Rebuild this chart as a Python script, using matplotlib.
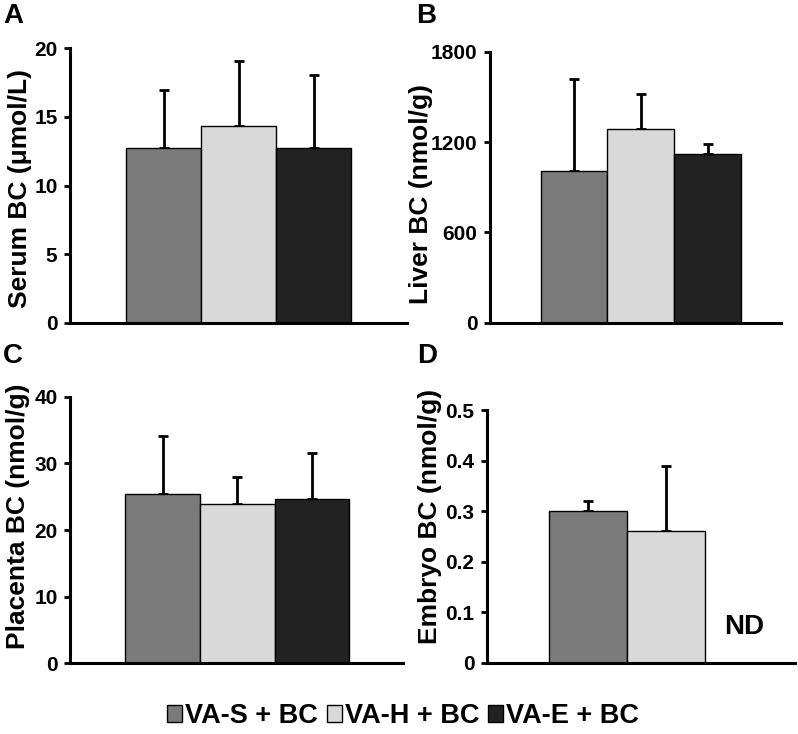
"""Four-panel BC bar chart (serum, liver, placenta, embryo) with SD error bars."""
import numpy as np
import matplotlib

matplotlib.use("Agg")
import matplotlib.pyplot as plt
from matplotlib.patches import Patch

plt.rcParams["font.family"] = ["Liberation Sans", "DejaVu Sans"]
plt.rcParams["font.weight"] = "bold"

GROUPS = ["VA-S + BC", "VA-H + BC", "VA-E + BC"]
COLORS = ["#7a7a7a", "#d9d9d9", "#222222"]

serum_mean = [12.75, 14.35, 12.75]
serum_err = [4.2, 4.7, 5.3]
liver_mean = [1005, 1285, 1118]
liver_err = [615, 235, 67]
placenta_mean = [25.4, 23.9, 24.6]
placenta_err = [8.7, 4.1, 6.9]
embryo_mean = [0.30, 0.26]
embryo_err = [0.02, 0.13]

W, H = 798, 734


def px_axes(fig, x0, x1, ytop, ybot):
    return fig.add_axes([x0 / W, 1 - ybot / H, (x1 - x0) / W, (ybot - ytop) / H])


def panel(ax, means, errs, ylim, yticks, ylabel, xlim, label_xy):
    x = np.arange(len(means))
    ax.bar(x, means, width=1.0, color=COLORS[:len(means)], edgecolor="black",
           linewidth=1.0, zorder=2)
    ax.errorbar(x, means, yerr=[np.zeros(len(errs)), errs], fmt="none",
                ecolor="black", elinewidth=2.0, capsize=3.5, capthick=2.0, zorder=1)
    ax.set_xlim(*xlim)
    ax.set_ylim(*ylim)
    ax.set_yticks(yticks)
    ax.set_xticks([])
    for s in ("top", "right"):
        ax.spines[s].set_visible(False)
    for s in ("left", "bottom"):
        ax.spines[s].set_linewidth(2.2)
    ax.tick_params(axis="y", length=4, width=2, labelsize=15, pad=5)
    ax.set_ylabel(ylabel, fontsize=19, fontweight="bold")
    ax.yaxis.set_label_coords(*label_xy)


fig = plt.figure(figsize=(W / 100, H / 100), dpi=100)

axA = px_axes(fig, 70, 407, 48, 323)
panel(axA, serum_mean, serum_err, (0, 20), [0, 5, 10, 15, 20],
      "Serum BC (\u03bcmol/L)", (-1.25, 3.24), (-0.113, 0.49))

axB = px_axes(fig, 490, 781, 51.7, 322.7)
panel(axB, liver_mean, liver_err, (0, 1800), [0, 600, 1200, 1800],
      "Liver BC (nmol/g)", (-1.26, 3.1), (-0.195, 0.475))

axC = px_axes(fig, 70, 403, 396.7, 663.3)
panel(axC, placenta_mean, placenta_err, (0, 40), [0, 10, 20, 30, 40],
      "Placenta BC (nmol/g)", (-1.24, 3.22), (-0.12, 0.55))

axD = px_axes(fig, 487, 795, 410, 662.7)
panel(axD, embryo_mean, embryo_err, (0, 0.5), [0, 0.1, 0.2, 0.3, 0.4, 0.5],
      "Embryo BC (nmol/g)", (-1.30, 2.65), (-0.146, 0.58))
axD.set_yticklabels(["0", "0.1", "0.2", "0.3", "0.4", "0.5"])
axD.text(2, 0.07, "ND", ha="center", va="center", fontsize=20, fontweight="bold")

for letter, (px, py) in zip("ABCD", [(3, 3), (416, 3), (3, 343), (417, 343)]):
    fig.text(px / W, 1 - py / H, letter, ha="left", va="top",
             fontsize=20, fontweight="bold")

handles = [Patch(facecolor=c, edgecolor="black", linewidth=1.0) for c in COLORS]
fig.legend(handles, GROUPS, loc="center", bbox_to_anchor=(403 / W, 1 - 716 / H),
           ncol=3, frameon=False, fontsize=19.5, handlelength=0.55, handleheight=0.55,
           handletextpad=0.1, columnspacing=0.35, borderaxespad=0)

fig.savefig("out.png", dpi=100)
